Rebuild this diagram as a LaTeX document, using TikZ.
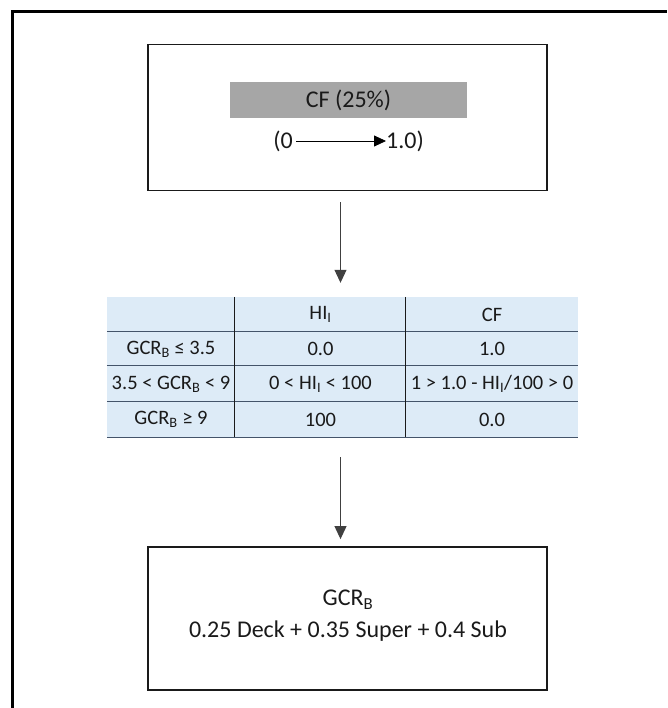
\documentclass[tikz,border=0pt]{standalone}
\usepackage{fontspec}
\setmainfont{Carlito}
\usetikzlibrary{arrows.meta}
\definecolor{bleu}{HTML}{DDEBF7}
\definecolor{trait}{HTML}{44546A}
\definecolor{gris}{HTML}{A6A6A6}
\definecolor{encre}{HTML}{1A1A1A}

\begin{document}
\begin{tikzpicture}[x=1pt,y=-1pt,
  boite/.style={draw=encre,line width=1.8pt,minimum width=399pt,minimum height=146pt,inner sep=0pt},
  cellule/.style={fill=bleu,inner sep=0pt,text=encre,font=\fontsize{20.5}{25}\selectfont},
  fleche/.style={draw=black!75,line width=1pt,-{Triangle[length=13pt,width=12pt]}},
  texte/.style={text=encre,font=\fontsize{24}{29}\selectfont,inner sep=0pt}]
  \useasboundingbox (0,0) rectangle (667,708);
  % Cadre.
  \draw[line width=3pt] (12,708) -- (12,12) -- (667,12);

  % Haut.
  \node[boite] (haut) at (347.5,117.5) {};
  \node[texte,fill=gris,minimum width=237pt,minimum height=36pt] (titre) at (348.5,100) {CF (25\%)};
  \node[texte,anchor=east] (zero) at (293,141) {(0};
  \node[texte,anchor=west] (un) at (386,141) {1.0)};
  \draw[line width=0.8pt,-{Triangle[length=12pt,width=11pt]},shorten <=3pt] (zero) -- (un);

  % Tableau.
  \node[cellule,minimum width=128pt,minimum height=35pt] (c11) at (171,314.5) {};
  \node[cellule,minimum width=171pt,minimum height=35pt] (c12) at (320.5,314.5) {HI\textsubscript{I}};
  \node[cellule,minimum width=172pt,minimum height=35pt] (c13) at (492,314.5) {CF};
  \node[cellule,minimum width=128pt,minimum height=34pt] (c21) at (171,349) {GCR\textsubscript{B} ≤ 3.5};
  \node[cellule,minimum width=171pt,minimum height=34pt] (c22) at (320.5,349) {0.0};
  \node[cellule,minimum width=172pt,minimum height=34pt] (c23) at (492,349) {1.0};
  \node[cellule,minimum width=128pt,minimum height=36pt] (c31) at (171,384) {3.5 < GCR\textsubscript{B} < 9};
  \node[cellule,minimum width=171pt,minimum height=36pt] (c32) at (320.5,384) {0 <  HI\textsubscript{I} < 100};
  \node[cellule,minimum width=172pt,minimum height=36pt] (c33) at (492,384) {1 > 1.0 - HI\textsubscript{I}/100 > 0};
  \node[cellule,minimum width=128pt,minimum height=35pt] (c41) at (171,419.5) {GCR\textsubscript{B} ≥ 9};
  \node[cellule,minimum width=171pt,minimum height=35pt] (c42) at (320.5,419.5) {100};
  \node[cellule,minimum width=172pt,minimum height=35pt] (c43) at (492,419.5) {0.0};
  \draw[trait,line width=1.2pt] (c21.north west) -- (c23.north east);
  \draw[trait,line width=1.2pt] (c31.north west) -- (c33.north east);
  \draw[trait,line width=1.2pt] (c41.north west) -- (c43.north east);
  \draw[trait,line width=1.2pt] (c41.south west) -- (c43.south east);
  \draw[encre,line width=1pt] (c12.north west) -- (c42.south west);
  \draw[encre,line width=1pt] (c13.north west) -- (c43.south west);

  % Bas.
  \node[boite,minimum height=143pt] (bas) at (347.5,618.5) {};
  \node[texte] (gcr) at (348,600) {GCR\textsubscript{B}};
  \node[texte] (formule) at (348,631) {0.25 Deck + 0.35 Super + 0.4 Sub};

  % Fleches.
  \draw[fleche,shorten <=11pt,shorten >=14pt] ([xshift=-7pt]haut.south) -- ([xshift=-7pt]haut.south |- c12.north);
  \draw[fleche,shorten <=20pt,shorten >=7pt] ([xshift=-7pt]bas.north |- c42.south) -- ([xshift=-7pt]bas.north);
\end{tikzpicture}
\end{document}
